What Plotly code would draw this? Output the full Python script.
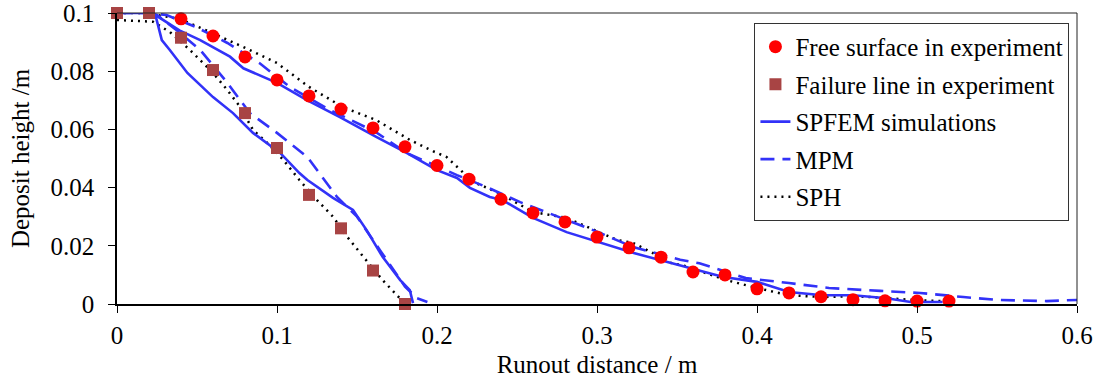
import plotly.graph_objects as go

# Experiment data
free_x = [0.04, 0.06, 0.08, 0.10, 0.12, 0.14, 0.16, 0.18, 0.20, 0.22, 0.24, 0.26, 0.28,
          0.30, 0.32, 0.34, 0.36, 0.38, 0.40, 0.42, 0.44, 0.46, 0.48, 0.50, 0.52]
free_y = [0.098, 0.0921, 0.0849, 0.077, 0.0715, 0.067, 0.0605, 0.054, 0.0476, 0.0429, 0.036,
          0.0313, 0.0282, 0.023, 0.0193, 0.0161, 0.011, 0.010, 0.0052, 0.0038, 0.0025, 0.0015,
          0.0011, 0.001, 0.001]

fail_x = [0.0, 0.02, 0.04, 0.06, 0.08, 0.10, 0.12, 0.14, 0.16, 0.18]
fail_y = [0.1, 0.1, 0.0915, 0.0804, 0.0656, 0.0536, 0.0375, 0.026, 0.0115, 0.0]

# SPFEM simulations
spfem_free_x = [0.0, 0.02, 0.024, 0.039, 0.052, 0.0706, 0.079, 0.1, 0.119, 0.139, 0.162, 0.181,
                0.2, 0.2125, 0.2206, 0.233, 0.241, 0.26, 0.281, 0.302, 0.323, 0.344, 0.358,
                0.379, 0.4, 0.42, 0.441, 0.46, 0.481, 0.496, 0.516]
spfem_free_y = [0.1, 0.1, 0.0993, 0.094, 0.0907, 0.085, 0.081, 0.076, 0.070, 0.0643, 0.0574, 0.0519,
                0.046, 0.0433, 0.0399, 0.0368, 0.0357, 0.0296, 0.0247, 0.021, 0.0175, 0.0144, 0.0124,
                0.0093, 0.0076, 0.0041, 0.003, 0.003, 0.002, 0.0007, 0.0007]
spfem_fail_x = [0.02, 0.024, 0.028, 0.033, 0.044, 0.06, 0.0725, 0.085, 0.102, 0.114, 0.119, 0.135,
                0.1475, 0.156, 0.166, 0.177, 0.183, 0.185]
spfem_fail_y = [0.1, 0.0993, 0.0907, 0.0873, 0.0794, 0.0711, 0.0656, 0.0588, 0.0519, 0.045, 0.0426,
                0.0365, 0.0323, 0.0254, 0.0162, 0.0082, 0.0048, 0.0003]

# MPM
mpm_free_x = [0.0, 0.02, 0.031, 0.05, 0.069, 0.089, 0.108, 0.133, 0.162, 0.181, 0.2125, 0.231,
              0.252, 0.27, 0.2975, 0.3225, 0.352, 0.364, 0.393, 0.42, 0.445, 0.477, 0.502, 0.529,
              0.55, 0.581, 0.6]
mpm_free_y = [0.1, 0.1, 0.0993, 0.095, 0.0897, 0.0828, 0.0746, 0.0667, 0.059, 0.0519, 0.0443, 0.0402,
              0.035, 0.0313, 0.0254, 0.0196, 0.0152, 0.014, 0.0089, 0.0072, 0.0055, 0.0045, 0.0038,
              0.0024, 0.0014, 0.001, 0.0014]
mpm_fail_x = [0.02, 0.025, 0.0375, 0.052, 0.069, 0.083, 0.1, 0.119, 0.1375, 0.15, 0.165, 0.18, 0.1875, 0.194]
mpm_fail_y = [0.1, 0.0993, 0.094, 0.0873, 0.076, 0.0656, 0.0588, 0.0505, 0.0368, 0.030, 0.018, 0.006, 0.002, 0.0007]

# SPH
sph_free_x = [0.0, 0.02, 0.025, 0.039, 0.058, 0.079, 0.1, 0.12, 0.141, 0.162, 0.183, 0.1975, 0.206,
              0.2225, 0.239, 0.26, 0.281, 0.302, 0.3125, 0.3225, 0.335, 0.344, 0.358, 0.366, 0.381,
              0.4, 0.42, 0.441, 0.462, 0.481, 0.4975, 0.516]
sph_free_y = [0.1, 0.1, 0.0993, 0.098, 0.0935, 0.0883, 0.0828, 0.0746, 0.0677, 0.0632, 0.0564, 0.0525, 0.0505,
              0.042, 0.0381, 0.0316, 0.0296, 0.0247, 0.022, 0.021, 0.0175, 0.0144, 0.0127, 0.011, 0.0082,
              0.0055, 0.003, 0.0024, 0.0027, 0.002, 0.0014, 0.001]
sph_fail_x = [0.0, 0.0225, 0.033, 0.0456, 0.06, 0.069, 0.077, 0.085, 0.094, 0.104, 0.114, 0.125, 0.135,
              0.144, 0.154, 0.166, 0.175, 0.179]
sph_fail_y = [0.0976, 0.097, 0.0935, 0.0873, 0.0794, 0.0735, 0.0677, 0.0598, 0.0553, 0.0495, 0.0426, 0.0357,
              0.030, 0.023, 0.0162, 0.0082, 0.003, 0.0007]

x_ticks = [0, 0.1, 0.2, 0.3, 0.4, 0.5, 0.6]
x_tick_labels = ["0", "0.1", "0.2", "0.3", "0.4", "0.5", "0.6"]
y_ticks = [0, 0.02, 0.04, 0.06, 0.08, 0.1]
y_tick_labels = ["0", "0.02", "0.04", "0.06", "0.08", "0.1"]

FONT = "Liberation Serif"
FS = 25
BLUE = "#3232F8"

def join(a, b):
    return list(a) + [None] + list(b)

fig = go.Figure()
fig.add_trace(go.Scatter(x=join(sph_free_x, sph_fail_x), y=join(sph_free_y, sph_fail_y),
                         mode="lines", name="SPH", legendgroup="e", legendrank=5,
                         line=dict(color="black", width=2.5, dash="2px,5px")))
fig.add_trace(go.Scatter(x=join(mpm_free_x, mpm_fail_x), y=join(mpm_free_y, mpm_fail_y),
                         mode="lines", name="MPM", legendgroup="d", legendrank=4,
                         line=dict(color=BLUE, width=2.6, dash="14px,8px")))
fig.add_trace(go.Scatter(x=join(spfem_free_x, spfem_fail_x), y=join(spfem_free_y, spfem_fail_y),
                         mode="lines", name="SPFEM simulations", legendgroup="c", legendrank=3,
                         line=dict(color=BLUE, width=2.6)))
fig.add_trace(go.Scatter(x=fail_x, y=fail_y, mode="markers", name="Failure line in experiment",
                         legendgroup="b", legendrank=2, cliponaxis=False,
                         marker=dict(symbol="square", size=12, color="#A84444")))
fig.add_trace(go.Scatter(x=free_x, y=free_y, mode="markers", name="Free surface in experiment",
                         legendgroup="a", legendrank=1, cliponaxis=False,
                         marker=dict(symbol="circle", size=13, color="#FF0000")))

fig.update_layout(
    width=1094, height=391,
    margin=dict(l=117, r=17, t=13, b=87, autoexpand=False),
    paper_bgcolor="white", plot_bgcolor="white",
    font=dict(family=FONT, size=FS, color="black"),
    legend=dict(x=0.664, y=0.966, xanchor="left", yanchor="top",
                bordercolor="#333333", borderwidth=1, bgcolor="white",
                font=dict(family=FONT, size=FS), tracegroupgap=2, itemwidth=30,
                traceorder="grouped"),
    xaxis=dict(range=[0, 0.6], tickvals=x_ticks, ticktext=x_tick_labels, automargin=False,
               showgrid=False, zeroline=False, showline=True, linecolor="black", linewidth=1.5,
               ticks="outside", ticklen=7, tickwidth=1.2, tickcolor="black", ticklabelstandoff=1,
               ticklabeloverflow="allow",
               tickfont=dict(family=FONT, size=FS),
               title=dict(text="Runout distance / m", standoff=8, font=dict(family=FONT, size=FS))),
    yaxis=dict(range=[0, 0.1], tickvals=y_ticks, ticktext=y_tick_labels, automargin=False,
               showgrid=False, zeroline=False, showline=True, linecolor="black", linewidth=1.5,
               ticks="outside", ticklen=7, tickwidth=1.2, tickcolor="black", ticklabelstandoff=9,
               ticklabeloverflow="allow",
               tickfont=dict(family=FONT, size=FS),
               title=dict(text="Deposit height /m", standoff=14, font=dict(family=FONT, size=FS))),
    shapes=[
        dict(type="line", xref="paper", yref="paper", x0=0, x1=1, y0=1, y1=1,
             line=dict(color="#222222", width=1)),
        dict(type="line", xref="paper", yref="paper", x0=1, x1=1, y0=0, y1=1,
             line=dict(color="#222222", width=1)),
    ],
)

fig.write_html("out.html")
